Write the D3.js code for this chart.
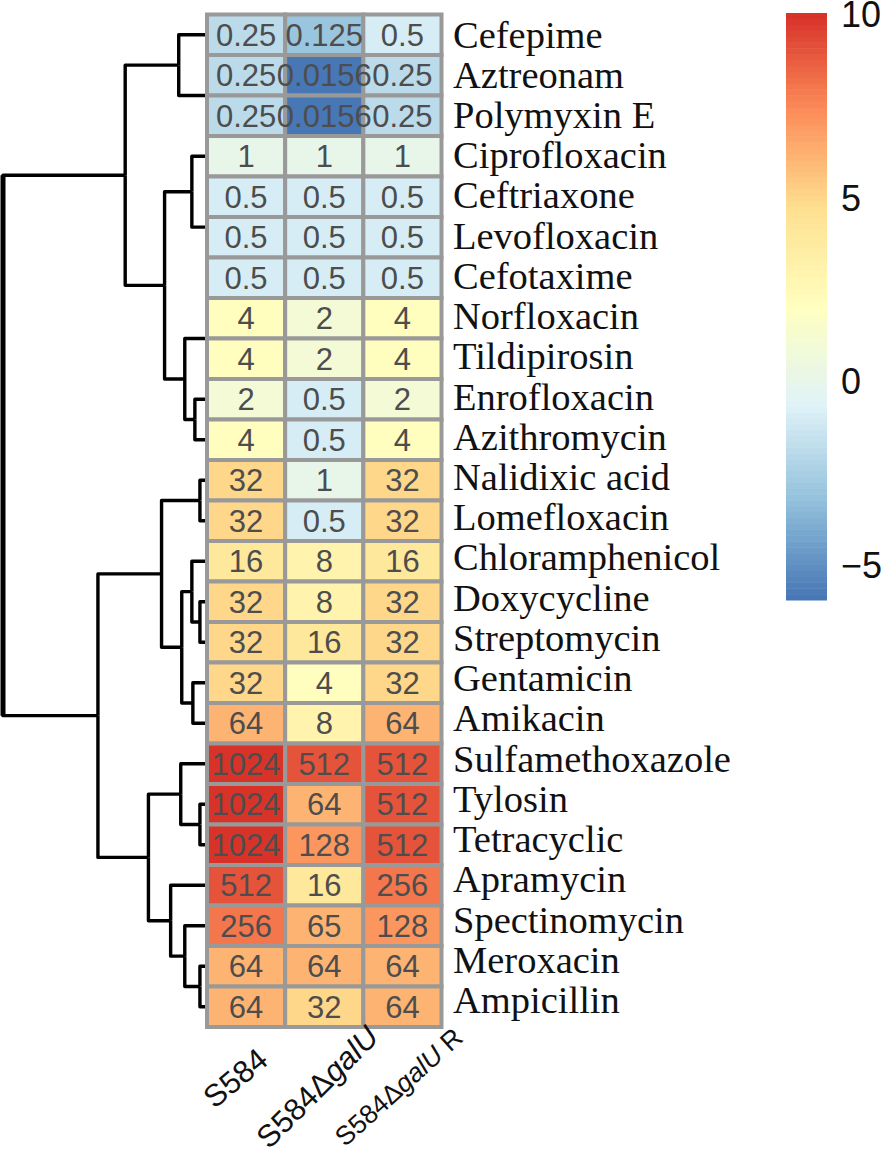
<!DOCTYPE html>
<meta charset="utf-8">
<style>
    html, body { margin: 0; background: #fff; }
    svg { display: block; }
    .cell { stroke: #999; stroke-width: 4px; }
    .cell-label { font: 31px "Liberation Sans", sans-serif; fill: #4d4d4d; text-anchor: middle; }
    .row-label { font: 38.5px "Liberation Serif", serif; fill: #111; }
    .col-label { font-family: "Liberation Sans", sans-serif; fill: #111; text-anchor: end; }
    .link { fill: none; stroke: #000; stroke-width: 3.4px; stroke-linejoin: round; }
    .legend text { font: 36px "Liberation Sans", sans-serif; fill: #111; }
</style>
<svg width="886" height="1152"></svg>
<script src="https://d3js.org/d3.v7.min.js"></script>
<script>

    const drugs = ["Cefepime", "Aztreonam", "Polymyxin E", "Ciprofloxacin", "Ceftriaxone", "Levofloxacin", "Cefotaxime",
        "Norfloxacin", "Tildipirosin", "Enrofloxacin", "Azithromycin", "Nalidixic acid", "Lomefloxacin",
        "Chloramphenicol", "Doxycycline", "Streptomycin", "Gentamicin", "Amikacin", "Sulfamethoxazole",
        "Tylosin", "Tetracyclic", "Apramycin", "Spectinomycin", "Meroxacin", "Ampicillin"];

    const strains = ["S584", "S584ΔgalU", "S584ΔgalU R"];

    // MIC values, one list per strain, same order as drugs
    const micS584 = [0.25, 0.25, 0.25, 1, 0.5, 0.5, 0.5, 4, 4, 2, 4, 32, 32, 16, 32, 32, 32, 64, 1024, 1024, 1024, 512, 256, 64, 64];
    const micGalU = [0.125, 0.0156, 0.0156, 1, 0.5, 0.5, 0.5, 2, 2, 0.5, 0.5, 1, 0.5, 8, 8, 16, 4, 8, 512, 64, 128, 16, 65, 64, 32];
    const micGalUR = [0.5, 0.25, 0.25, 1, 0.5, 0.5, 0.5, 4, 4, 2, 4, 32, 32, 16, 32, 32, 32, 64, 512, 512, 512, 256, 128, 64, 64];

    // Clustering, written like R's hclust: negative = leaf number, positive = earlier merge number
    const mergeA = [-2, -1, -6, -5, -4, -8, -10, 6, 5, 2, -12, -15, -14, -17, 13, 11, -20, -19, -24, -23, -22, 18, 16, 10];
    const mergeB = [-3, 1, -7, 3, 4, -9, -11, 7, 8, 9, -13, -16, 12, -18, 14, 15, -21, 17, -25, 19, 20, 21, 22, 23];
    const mergeHeight = [0, 1.4, 0, 0, 0.75, 0, 0.6, 1.1, 2.1, 4.05, 0.35, 0.35, 0.75, 0.7, 1.25, 2.25, 0.35, 1.3, 0.35, 1.1, 1.8, 2.9, 5.4, 10.1];

    const paletteColors = ["#4575B4", "#91BFDB", "#E0F3F8", "#FFFFBF", "#FEE090", "#FC8D59", "#D73027"];
    const legendTicks = [-5, 0, 5, 10];
    const legendMin = -6;
    const legendMax = 10;

    const svg = d3.select("svg");

    const x = d3.scaleBand().domain(strains).range([207, 441.5]);
    const y = d3.scaleBand().domain(drugs).range([14.5, 1027]);
    // row names sit on a slightly tighter pitch than the cells in the original
    const labelY = d3.scalePoint().domain(drugs).range([47.5, 1013]);
    const treeX = d3.scaleLinear().domain([0, d3.max(mergeHeight)]).range([207, 3]);

    const ramp = d3.scaleLinear()
        .domain(d3.range(paletteColors.length).map(i => legendMin + i * (legendMax - legendMin) / (paletteColors.length - 1)))
        .range(paletteColors);
    const color = d3.scaleQuantize().domain([legendMin, legendMax])
        .range(d3.range(100).map(i => ramp(legendMin + (i + 0.5) * (legendMax - legendMin) / 100)));

    // dendrogram
    function buildNode(ref) {
        if (ref < 0) return { name: drugs[-ref - 1], height: 0 };
        const i = ref - 1;
        return { height: mergeHeight[i], children: [buildNode(mergeA[i]), buildNode(mergeB[i])] };
    }

    const root = d3.hierarchy(buildNode(mergeHeight.length));
    root.eachAfter(function(d) {
        d.py = d.children ? d3.mean(d.children, c => c.py) : y(d.data.name) + y.bandwidth() / 2;
        d.px = treeX(d.data.height);
    });

    svg.append("g").selectAll("path")
        .data(root.descendants().slice(1))
        .join("path")
        .attr("class", "link")
        .attr("d", d => "M" + d.px + "," + d.py + "H" + d.parent.px + "V" + d.parent.py);

    svg.append("path")
        .attr("class", "link")
        .style("stroke-width", "5px")
        .attr("d", "M" + root.px + "," + root.children[0].py + "V" + root.children[1].py);

    // heatmap
    const cells = [];
    [micS584, micGalU, micGalUR].forEach(function(series, s) {
        series.forEach(function(mic, r) {
            cells.push({ strain: strains[s], drug: drugs[r], mic: mic });
        });
    });

    svg.append("g").selectAll("rect")
        .data(cells)
        .join("rect")
        .attr("class", "cell")
        .attr("x", d => x(d.strain))
        .attr("y", d => y(d.drug))
        .attr("width", x.bandwidth())
        .attr("height", y.bandwidth())
        .attr("fill", d => color(Math.log2(d.mic)));

    svg.append("g").selectAll("text")
        .data(cells)
        .join("text")
        .attr("class", "cell-label")
        .attr("x", d => x(d.strain) + x.bandwidth() / 2)
        .attr("y", d => y(d.drug) + y.bandwidth() / 2)
        .attr("dy", "0.36em")
        .text(d => d.mic);

    svg.append("g").selectAll("text")
        .data(drugs)
        .join("text")
        .attr("class", "row-label")
        .attr("x", 453)
        .attr("y", d => labelY(d))
        .text(d => d);

    // column labels, galU in italics
    const colSize = [31, 31, 26.5];
    const colAngle = [-40, -45, -42];
    const colLabels = svg.append("g").selectAll("text")
        .data(strains)
        .join("text")
        .attr("class", "col-label")
        .style("font-size", (d, i) => colSize[i] + "px")
        .attr("transform", (d, i) => "translate(" + (x(d) + x.bandwidth() / 2 + [24, 56, 62][i]) + "," + [1063, 1039, 1040][i] + ") rotate(" + colAngle[i] + ")");

    colLabels.each(function(d) {
        const parts = d.split("galU");
        const label = d3.select(this);
        label.append("tspan").text(parts[0]);
        if (parts.length > 1) {
            label.append("tspan").style("font-style", "italic").text("galU");
            label.append("tspan").text(parts[1]);
        }
    });

    // colour legend
    const legendY = d3.scaleLinear().domain([legendMin, legendMax]).range([600, 13]);
    const legend = svg.append("g").attr("class", "legend");

    legend.selectAll("rect")
        .data(color.range())
        .join("rect")
        .attr("x", 786)
        .attr("width", 41)
        .attr("y", (d, i) => legendY(legendMin + (i + 1) * (legendMax - legendMin) / 100))
        .attr("height", (legendY(legendMin) - legendY(legendMax)) / 100 + 0.5)
        .attr("fill", d => d);

    const legendAxis = legend.append("g")
        .attr("transform", "translate(827,0)")
        .call(d3.axisRight(legendY).tickValues(legendTicks).tickSize(0).tickPadding(14));
    legendAxis.select(".domain").remove();
    legendAxis.selectAll("text").attr("dy", "0.38em");

</script>
